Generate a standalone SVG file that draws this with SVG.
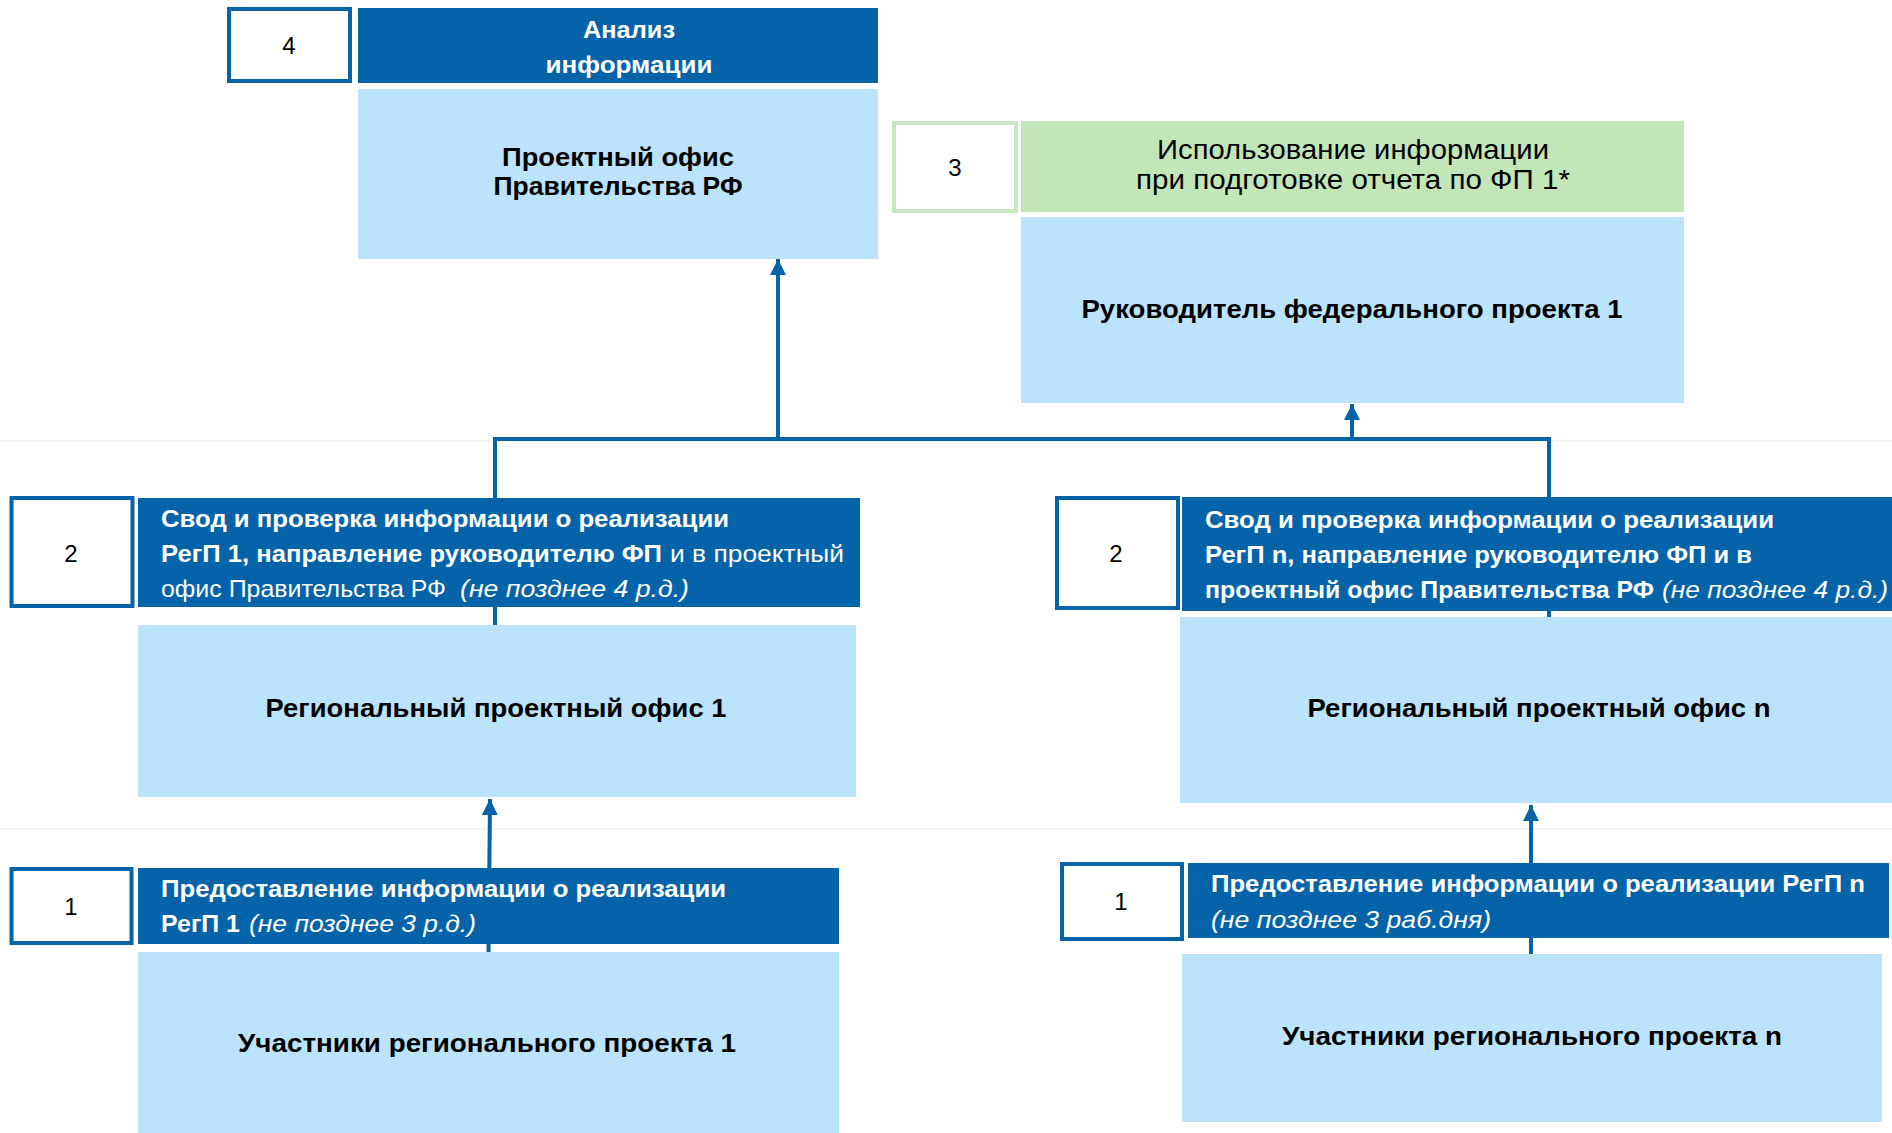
<svg xmlns="http://www.w3.org/2000/svg" width="1892" height="1133" viewBox="0 0 1892 1133">
<style>
.hdr{fill:#0563A9}
.body{fill:#BBE3FC}
.green{fill:#C3E6B9}
.num{fill:#FFFFFF;stroke:#0563A9;stroke-width:4}
.numg{fill:#FFFFFF;stroke:#C6E8BE;stroke-width:4}
.conn{fill:none;stroke:#0563A9;stroke-width:4}
.sep{stroke:#EEF0F7;stroke-width:1.5}
text{font-family:"Liberation Sans",Arial,sans-serif}
.t{font-size:26px;font-weight:bold;fill:#000;text-anchor:middle}
.w{font-size:24px;fill:#FFFFFF}
.wb{font-size:24px;font-weight:bold;fill:#FFFFFF}
.wi{font-size:24px;font-style:italic;fill:#FFFFFF}
.n{font-size:24px;fill:#000;text-anchor:middle}
.g{font-size:27px;fill:#000;text-anchor:middle}
</style>
<defs>
<marker id="arr" markerUnits="userSpaceOnUse" markerWidth="18" markerHeight="18" refX="16" refY="8" orient="auto">
<path d="M0,0 L16,8 L0,16 z" fill="#0563A9"/>
</marker>
</defs>
<rect x="0" y="0" width="1892" height="1133" fill="#FFFFFF"/>
<line class="sep" x1="0" y1="441" x2="1892" y2="441"/>
<line class="sep" x1="0" y1="829" x2="1892" y2="829"/>
<g id="connectors">
<path class="conn" d="M495,625 V439 H1549 V617"/>
<line class="conn" x1="778" y1="439" x2="778" y2="259" marker-end="url(#arr)"/>
<line class="conn" x1="1352" y1="439" x2="1352" y2="404" marker-end="url(#arr)"/>
<line class="conn" x1="488.5" y1="952" x2="490" y2="799" marker-end="url(#arr)"/>
<line class="conn" x1="1531" y1="954" x2="1531" y2="805" marker-end="url(#arr)"/>
</g>
<g id="step4">
<rect class="num" x="229" y="9" width="121" height="72"/>
<text class="n" x="289" y="54">4</text>
<rect class="hdr" x="358" y="8" width="520" height="75"/>
<text class="wb" x="629" y="38" text-anchor="middle" textLength="92" lengthAdjust="spacingAndGlyphs">Анализ</text>
<text class="wb" x="629" y="73" text-anchor="middle" textLength="167" lengthAdjust="spacingAndGlyphs">информации</text>
</g>
<g id="pm-office">
<rect class="body" x="358" y="89" width="520" height="170"/>
<text class="t" x="618" y="166" textLength="232" lengthAdjust="spacingAndGlyphs">Проектный офис</text>
<text class="t" x="618" y="195" textLength="249" lengthAdjust="spacingAndGlyphs">Правительства РФ</text>
</g>
<g id="step3">
<rect class="numg" x="894" y="123" width="122" height="88"/>
<text class="n" x="955" y="176">3</text>
<rect class="green" x="1021" y="121" width="663" height="91"/>
<text class="g" x="1353" y="159" textLength="392" lengthAdjust="spacingAndGlyphs">Использование информации</text>
<text class="g" x="1353" y="189" textLength="434" lengthAdjust="spacingAndGlyphs">при подготовке отчета по ФП 1*</text>
</g>
<g id="fp-head">
<rect class="body" x="1021" y="217" width="663" height="186"/>
<text class="t" x="1352" y="318" textLength="541" lengthAdjust="spacingAndGlyphs">Руководитель федерального проекта 1</text>
</g>
<g id="step2-left">
<rect class="num" x="11.5" y="498" width="121" height="108"/>
<text class="n" x="71" y="562">2</text>
<rect class="hdr" x="138" y="498" width="722" height="109"/>
<text class="wb" x="161" y="527" textLength="568" lengthAdjust="spacingAndGlyphs">Свод и проверка информации о реализации</text>
<text class="wb" x="161" y="562" textLength="501" lengthAdjust="spacingAndGlyphs">РегП 1, направление руководителю ФП</text>
<text class="w" x="670" y="562" textLength="174" lengthAdjust="spacingAndGlyphs">и в проектный</text>
<text class="w" x="161" y="597" textLength="285" lengthAdjust="spacingAndGlyphs">офис Правительства РФ</text>
<text class="wi" x="460" y="597" textLength="229" lengthAdjust="spacingAndGlyphs">(не позднее 4 р.д.)</text>
</g>
<g id="rpo-1">
<rect class="body" x="138" y="625" width="718" height="172"/>
<text class="t" x="496" y="717" textLength="461" lengthAdjust="spacingAndGlyphs">Региональный проектный офис 1</text>
</g>
<g id="step2-right">
<rect class="num" x="1057" y="498" width="121" height="110"/>
<text class="n" x="1116" y="562">2</text>
<rect class="hdr" x="1182" y="497" width="710" height="114"/>
<text class="wb" x="1205" y="528" textLength="569" lengthAdjust="spacingAndGlyphs">Свод и проверка информации о реализации</text>
<text class="wb" x="1205" y="563" textLength="547" lengthAdjust="spacingAndGlyphs">РегП n, направление руководителю ФП и в</text>
<text class="wb" x="1205" y="598" textLength="449" lengthAdjust="spacingAndGlyphs">проектный офис Правительства РФ</text>
<text class="wi" x="1662" y="598" textLength="226" lengthAdjust="spacingAndGlyphs">(не позднее 4 р.д.)</text>
</g>
<g id="rpo-n">
<rect class="body" x="1180" y="617" width="712" height="186"/>
<text class="t" x="1539" y="717" textLength="463" lengthAdjust="spacingAndGlyphs">Региональный проектный офис n</text>
</g>
<g id="step1-left">
<rect class="num" x="11.5" y="869" width="120" height="74"/>
<text class="n" x="71" y="915">1</text>
<rect class="hdr" x="138" y="868" width="701" height="76"/>
<text class="wb" x="161" y="897" textLength="565" lengthAdjust="spacingAndGlyphs">Предоставление информации о реализации</text>
<text class="wb" x="161" y="932" textLength="79" lengthAdjust="spacingAndGlyphs">РегП 1</text>
<text class="wi" x="249" y="932" textLength="227" lengthAdjust="spacingAndGlyphs">(не позднее 3 р.д.)</text>
</g>
<g id="participants-1">
<rect class="body" x="138" y="952" width="701" height="181"/>
<text class="t" x="487" y="1052" textLength="498" lengthAdjust="spacingAndGlyphs">Участники регионального проекта 1</text>
</g>
<g id="step1-right">
<rect class="num" x="1062" y="864" width="120" height="75"/>
<text class="n" x="1121" y="910">1</text>
<rect class="hdr" x="1188" y="863" width="701" height="75"/>
<text class="wb" x="1211" y="892" textLength="654" lengthAdjust="spacingAndGlyphs">Предоставление информации о реализации РегП n</text>
<text class="wi" x="1211" y="928" textLength="280" lengthAdjust="spacingAndGlyphs">(не позднее 3 раб.дня)</text>
</g>
<g id="participants-n">
<rect class="body" x="1182" y="954" width="700" height="168"/>
<text class="t" x="1532" y="1045" textLength="500" lengthAdjust="spacingAndGlyphs">Участники регионального проекта n</text>
</g>
</svg>
